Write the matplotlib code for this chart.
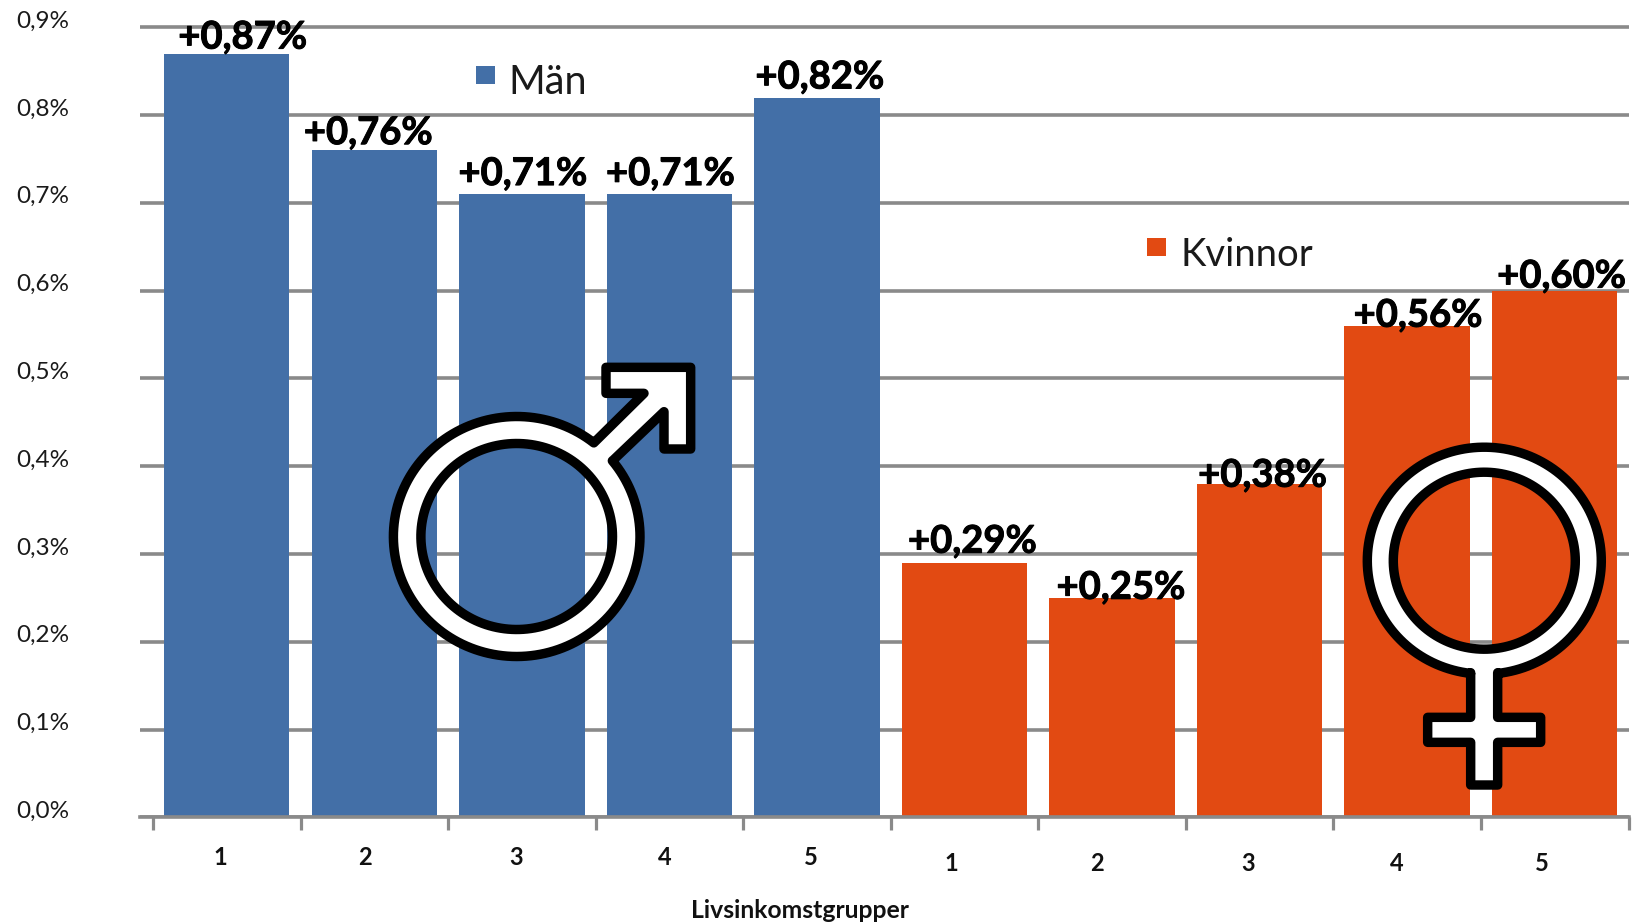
import numpy as np
import matplotlib
matplotlib.use("Agg")
import matplotlib.pyplot as plt
import matplotlib.patheffects as pe
from matplotlib.patches import PathPatch, Rectangle
from matplotlib.path import Path
from matplotlib.transforms import ScaledTranslation

# Chart data
group_labels = ["1", "2", "3", "4", "5", "1", "2", "3", "4", "5"]
men_values = [0.87, 0.76, 0.71, 0.71, 0.82]
women_values = [0.29, 0.25, 0.38, 0.56, 0.60]
value_labels = ["+0,87%", "+0,76%", "+0,71%", "+0,71%", "+0,82%",
                "+0,29%", "+0,25%", "+0,38%", "+0,56%", "+0,60%"]
y_ticks = [0.0, 0.1, 0.2, 0.3, 0.4, 0.5, 0.6, 0.7, 0.8, 0.9]
y_tick_labels = ["0,0%", "0,1%", "0,2%", "0,3%", "0,4%",
                 "0,5%", "0,6%", "0,7%", "0,8%", "0,9%"]
series_names = ["Män", "Kvinnor"]
x_title = "Livsinkomstgrupper"

W, H = 1635, 922
BLUE = "#436FA7"
ORANGE = "#E24A12"
GREY = "#8A8A8A"
plt.rcParams["font.family"] = ["Lato", "DejaVu Sans"]


def fx(px):
    return px / W


def fy(py):
    return 1 - py / H


fig = plt.figure(figsize=(W / 100, H / 100), dpi=100, facecolor="white")

# Axes placed so that 0 and 0.9 land on the baseline and the top gridline
base_y, unit_y = 817.3, 877.8
top_value = 0.92
left_px, right_px = 140, 1629
cat0_px, cat_px = 153, 147.55
ax = fig.add_axes([fx(left_px), fy(base_y), (right_px - left_px) / W,
                   top_value * unit_y / H])
ax.set_xlim((left_px - cat0_px) / cat_px, (right_px - cat0_px) / cat_px)
ax.set_ylim(0, top_value)
ax.patch.set_alpha(0)

values = men_values + women_values
colors = [BLUE] * len(men_values) + [ORANGE] * len(women_values)
positions = np.arange(len(values)) + 0.5
ax.bar(positions, values, width=0.85, color=colors, zorder=2)

ax.set_yticks(y_ticks)
ax.set_yticklabels(y_tick_labels, fontsize=17.5, color="#1a1a1a")
ax.tick_params(axis="y", length=0, pad=51)
# The percentage labels sit a little above their gridlines
raise_labels = ScaledTranslation(0, 8 / 100, fig.dpi_scale_trans)
for label in ax.get_yticklabels():
    label.set_transform(label.get_transform() + raise_labels)
ax.set_xticks(np.arange(len(values) + 1))
ax.set_xticklabels([])
ax.tick_params(axis="x", length=9.4, width=2.3, color=GREY)
ax.grid(axis="y", color=GREY, linewidth=2.6, zorder=1)
ax.set_axisbelow(True)
for side in ("top", "right", "left"):
    ax.spines[side].set_visible(False)
ax.spines["bottom"].set_color(GREY)
ax.spines["bottom"].set_linewidth(2.6)

# Hand-placed value labels, offset in pixels from each bar's top centre
label_dx = [16, -6, 1, 1, 3, 8, 9, 3, 11, 7]
label_dy = [16, 17, 20, 20, 20, 21, 10, 8, 10, 14]
heavier = [pe.withStroke(linewidth=0.7, foreground="black")]
for x, v, text, dx, dy in zip(positions, values, value_labels, label_dx, label_dy):
    ax.annotate(text, (x, v), xytext=(dx, dy), textcoords="offset pixels",
                ha="center", va="center", fontsize=27.5, fontweight="bold",
                color="black", zorder=5, path_effects=heavier)

# Category labels sit slightly lower for the second group
tick_x = [220, 365, 516, 665, 811, 951, 1097, 1248, 1397, 1542]
tick_y = [857, 857, 857, 857, 857, 863, 863, 863, 863, 863]
for px, py, text in zip(tick_x, tick_y, group_labels):
    fig.text(fx(px), fy(py), text, ha="center", va="center",
             fontsize=17, fontweight="bold", color="#111111")
fig.text(fx(800), fy(910), x_title, ha="center", va="center",
         fontsize=17.8, fontweight="bold", color="#111111")

# Free-floating legend entries
legend_items = [(476, 66, 508, 82, series_names[0], BLUE, 28.5),
                (1147, 238, 1180, 255, series_names[1], ORANGE, 27.5)]
for sx, sy, tx, ty, name, color, size in legend_items:
    fig.add_artist(Rectangle((fx(sx), fy(sy + 18)), 19 / W, 18 / H,
                             transform=fig.transFigure, facecolor=color,
                             edgecolor="none"))
    fig.text(fx(tx), fy(ty), name, ha="left", va="center", fontsize=size,
             color="#1a1a1a")


def ellipse_points(cx, cy, rx, ry, start, stop, n=160):
    t = np.radians(np.linspace(start, stop, n))
    return np.column_stack([cx + rx * np.cos(t), cy + ry * np.sin(t)])


def draw_symbol(outline, hole):
    # Compound white shape with a black contour; coordinates are image pixels
    verts = np.vstack([outline, outline[:1], hole, hole[:1]])
    codes = ([Path.MOVETO] + [Path.LINETO] * (len(outline) - 1) + [Path.CLOSEPOLY]
             + [Path.MOVETO] + [Path.LINETO] * (len(hole) - 1) + [Path.CLOSEPOLY])
    scaled = np.column_stack([verts[:, 0] / W, 1 - verts[:, 1] / H])
    fig.add_artist(PathPatch(Path(scaled, codes), transform=fig.transFigure,
                             facecolor="white", edgecolor="black",
                             linewidth=6.8, joinstyle="round", zorder=10))


# Mars symbol
mx, my = 516.7, 536.5
arrow = np.array([(702, 308), (852, 160), (738, 160), (738, 82), (992, 82),
                  (992, 327), (912, 327), (912, 215), (760, 360)], float) / 3
arrow += (360, 340)
a_end = np.degrees(np.arctan2((arrow[-1, 1] - my) / 120, (arrow[-1, 0] - mx) / 123.3))
a_start = np.degrees(np.arctan2((arrow[0, 1] - my) / 120, (arrow[0, 0] - mx) / 123.3))
draw_symbol(np.vstack([arrow, ellipse_points(mx, my, 123.3, 120, a_end, a_start + 360)]),
            ellipse_points(mx, my, 95.8, 93, 360, 0))

# Venus symbol
vx, vy = 1484.3, 560.7
stem = np.array([(473, 728), (473, 862), (602, 862), (602, 937), (473, 937),
                 (473, 1065), (392, 1065), (392, 937), (263, 937), (263, 862),
                 (392, 862), (392, 728)], float) / 3
stem += (1340, 430)
a_left = np.degrees(np.arctan2((stem[-1, 1] - vy) / 113.5, (stem[-1, 0] - vx) / 117))
a_right = np.degrees(np.arctan2((stem[0, 1] - vy) / 113.5, (stem[0, 0] - vx) / 117))
draw_symbol(np.vstack([stem, ellipse_points(vx, vy, 117, 113.5, a_left, a_right + 360)]),
            ellipse_points(vx, vy, 91, 88.5, 360, 0))

fig.savefig("out.png", dpi=100, facecolor="white")
